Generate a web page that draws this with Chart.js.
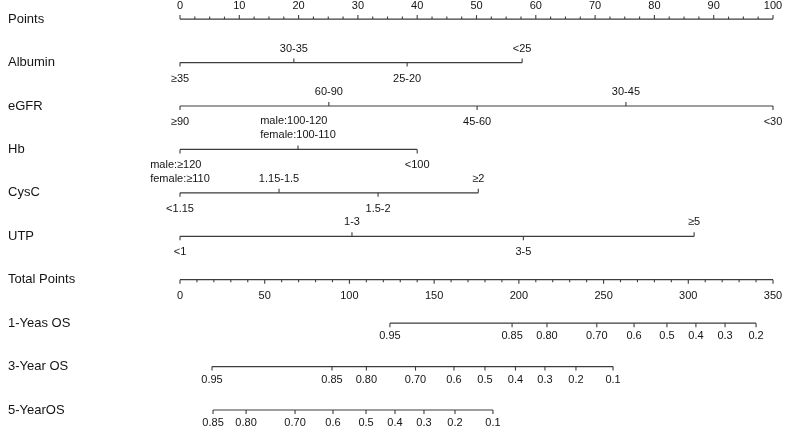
<!DOCTYPE html>
<html>
<head>
<meta charset="utf-8">
<script src="https://cdn.jsdelivr.net/npm/chart.js@4.4.1/dist/chart.umd.min.js"></script>
<style>
  body { margin: 0; background: #fff; }
  #wrap { width: 790px; height: 430px; }
</style>
</head>
<body>
<div id="wrap"><canvas id="nomogram"></canvas></div>
<script>
// row names, top to bottom
var rowNames = ["Points", "Albumin", "eGFR", "Hb", "CysC", "UTP", "Total Points", "1-Yeas OS", "3-Year OS", "5-YearOS"];

// points scale (0-100) and total points scale (0-350)
var pointsTicks = [0, 10, 20, 30, 40, 50, 60, 70, 80, 90, 100];
var totalTicks = [0, 50, 100, 150, 200, 250, 300, 350];

// predictors: category labels and their points
var albuminLabels = ["≥35", "30-35", "25-20", "<25"];
var albuminPoints = [0, 19.2, 38.3, 57.7];
var egfrLabels = ["≥90", "60-90", "45-60", "30-45", "<30"];
var egfrPoints = [0, 25.1, 50.1, 75.2, 100];
var hbLabels = ["male:≥120\nfemale:≥110", "male:100-120\nfemale:100-110", "<100"];
var hbPoints = [0, 19.9, 40];
var cyscLabels = ["<1.15", "1.15-1.5", "1.5-2", "≥2"];
var cyscPoints = [0, 16.7, 33.4, 50.3];
var utpLabels = ["<1", "1-3", "3-5", "≥5"];
var utpPoints = [0, 29, 57.9, 86.7];

// survival probabilities and the total points where they sit
var os1Labels = ["0.95", "0.85", "0.80", "0.70", "0.6", "0.5", "0.4", "0.3", "0.2"];
var os1Total = [123.9, 196, 216.6, 246, 268, 287.4, 304.5, 321.7, 340];
var os3Labels = ["0.95", "0.85", "0.80", "0.70", "0.6", "0.5", "0.4", "0.3", "0.2", "0.1"];
var os3Total = [18.9, 89.7, 110, 139, 161.7, 180, 198, 215.4, 233.7, 255.6];
var os5Labels = ["0.85", "0.80", "0.70", "0.6", "0.5", "0.4", "0.3", "0.2", "0.1"];
var os5Total = [19.5, 39, 67.9, 90.3, 109.8, 126.9, 144, 162.3, 184.7];

var lineColor = "#3c3c3c";
var textColor = "#141414";
var fontFamily = "'Liberation Sans', Arial, Helvetica, sans-serif";

var predictors = [
  { row: 1, labels: albuminLabels, values: albuminPoints },
  { row: 2, labels: egfrLabels, values: egfrPoints },
  { row: 3, labels: hbLabels, values: hbPoints },
  { row: 4, labels: cyscLabels, values: cyscPoints },
  { row: 5, labels: utpLabels, values: utpPoints }
];
var survival = [
  { row: 7, labels: os1Labels, values: os1Total },
  { row: 8, labels: os3Labels, values: os3Total },
  { row: 9, labels: os5Labels, values: os5Total }
];

function rowLine(values, row, axisId) {
  return {
    data: values.map(function(v) { return { x: v, y: row }; }),
    xAxisID: axisId,
    yAxisID: "y",
    showLine: true,
    borderColor: lineColor,
    borderWidth: 1.2,
    pointRadius: 0,
    fill: false
  };
}

var datasets = [];
datasets.push(rowLine([pointsTicks[0], pointsTicks[pointsTicks.length - 1]], 0, "x"));
predictors.forEach(function(p) {
  datasets.push(rowLine(p.values, p.row, "x"));
});
datasets.push(rowLine([totalTicks[0], totalTicks[totalTicks.length - 1]], 6, "xt"));
survival.forEach(function(s) {
  datasets.push(rowLine(s.values, s.row, "xt"));
});

function tick(ctx, px, py, len) {
  ctx.beginPath();
  ctx.moveTo(px, py);
  ctx.lineTo(px, py + len);
  ctx.stroke();
}

// text block centred on the tick, lines left aligned
function label(ctx, text, px, py, offset, above) {
  var lines = text.split("\n");
  var lh = 14;
  ctx.textBaseline = "middle";
  if (lines.length == 1) {
    ctx.textAlign = "center";
    ctx.fillText(text, px, py + offset);
    return;
  }
  var w = 0;
  lines.forEach(function(l) { w = Math.max(w, ctx.measureText(l).width); });
  ctx.textAlign = "left";
  for (var i = 0; i < lines.length; i++) {
    var yy = above ? py + offset - (lines.length - 1 - i) * lh : py + offset + i * lh;
    ctx.fillText(lines[i], px - w / 2, yy);
  }
}

var nomogramPlugin = {
  id: "nomogramTicks",
  afterDatasetsDraw: function(chart) {
    var ctx = chart.ctx;
    var x = chart.scales.x;
    var xt = chart.scales.xt;
    var y = chart.scales.y;
    ctx.save();
    ctx.strokeStyle = lineColor;
    ctx.lineWidth = 1.1;
    ctx.fillStyle = textColor;
    ctx.font = "11px " + fontFamily;

    // Points axis: ticks upward, labels above
    var py = y.getPixelForValue(0);
    for (var v = 0; v <= 100; v += 2.5) {
      tick(ctx, x.getPixelForValue(v), py, v % 10 == 0 ? -4 : -2.5);
    }
    pointsTicks.forEach(function(t) {
      label(ctx, String(t), x.getPixelForValue(t), py, -13, true);
    });

    // predictors: labels alternate below / above, tick on the label side
    predictors.forEach(function(p) {
      var ry = y.getPixelForValue(p.row);
      p.values.forEach(function(v, i) {
        var above = i % 2 == 1;
        var px = x.getPixelForValue(v);
        tick(ctx, px, ry, above ? -4 : 4);
        label(ctx, p.labels[i], px, ry, above ? -14 : 16, above);
      });
    });

    // Total points axis: ticks down, labels below
    var ty = y.getPixelForValue(6);
    for (var t = 0; t <= 350; t += 10) {
      tick(ctx, xt.getPixelForValue(t), ty, t % 50 == 0 ? 4 : 2.5);
    }
    totalTicks.forEach(function(t) {
      label(ctx, String(t), xt.getPixelForValue(t), ty, 16, false);
    });

    // survival axes
    survival.forEach(function(s) {
      var sy = y.getPixelForValue(s.row);
      s.values.forEach(function(v, i) {
        var px = xt.getPixelForValue(v);
        tick(ctx, px, sy, 4);
        label(ctx, s.labels[i], px, sy, 13, false);
      });
    });
    ctx.restore();
  }
};

var chart = new Chart(document.getElementById("nomogram").getContext("2d"), {
  type: "scatter",
  data: { datasets: datasets },
  options: {
    responsive: true,
    maintainAspectRatio: false,
    animation: false,
    layout: { padding: { left: 8, right: 17, top: 0, bottom: 0 } },
    plugins: { legend: { display: false }, tooltip: { enabled: false } },
    scales: {
      x: { type: "linear", min: 0, max: 100, display: false },
      xt: { type: "linear", min: 0, max: 350, display: false },
      y: {
        type: "linear",
        position: "left",
        reverse: true,
        min: -0.44,
        max: 9.46,
        grid: { display: false },
        border: { display: false },
        afterBuildTicks: function(scale) {
          scale.ticks = rowNames.map(function(n, i) { return { value: i }; });
        },
        afterFit: function(scale) {
          scale.width = 172;
          scale.paddingTop = 0;
          scale.paddingBottom = 0;
        },
        ticks: {
          crossAlign: "far",
          autoSkip: false,
          color: textColor,
          font: { size: 13, family: fontFamily },
          callback: function(value) { return rowNames[value]; }
        }
      }
    }
  },
  plugins: [nomogramPlugin]
});
</script>
</body>
</html>
